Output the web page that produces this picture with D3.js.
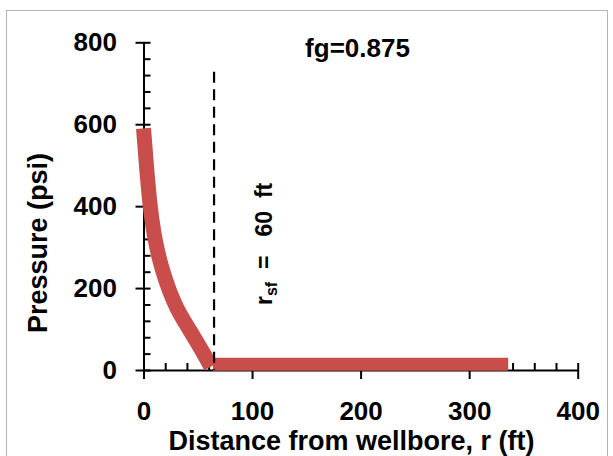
<!DOCTYPE html>
<html><head><meta charset="utf-8">
<script src="https://cdn.jsdelivr.net/npm/d3@7"></script>
<style>
html,body{margin:0;padding:0;background:#fff;}
svg{display:block;font-family:"Liberation Sans",Arial,sans-serif;}
text{font-weight:bold;fill:#000;}
</style></head><body>
<svg id="chart" width="613" height="456"></svg>
<script>
// Data
const curveR = [0, 3, 6, 9, 13, 18, 24, 31, 39, 47, 55, 62];
const curveP = [590, 490, 405, 345, 290, 240, 193, 150, 113, 78, 42, 8];
const flatR = [64, 336];
const flatP = [14, 14];
const rsfLine = 65;
const rsfTop = 728;
const xTickValues = [0, 100, 200, 300, 400];
const yTickValues = [0, 200, 400, 600, 800];
const xMinorValues = d3.range(0, 401, 20).filter(v => v % 100 !== 0);
const yMinorValues = d3.range(0, 801, 40).filter(v => v % 200 !== 0);
const xTitle = "Distance from wellbore, r (ft)";
const yTitle = "Pressure (psi)";
const annot = "fg=0.875";

const svg = d3.select("#chart");
const x = d3.scaleLinear([0, 400], [143.5, 577.7]);
const y = d3.scaleLinear([0, 800], [370, 42.3]);

svg.append("rect").attr("x", 6.5).attr("y", 10.5).attr("width", 601).attr("height", 470)
  .attr("fill", "none").attr("stroke", "#b4b4b4").attr("stroke-width", 1);

// X axis
const gx = svg.append("g").attr("transform", `translate(0,${y(0)})`)
  .call(d3.axisBottom(x).tickValues(xTickValues).tickSize(9).tickPadding(22.5).tickSizeOuter(0));
gx.attr("font-size", null).attr("font-family", null);
gx.select(".domain").attr("stroke", "#000").attr("stroke-width", 2);
gx.selectAll(".tick line").attr("y1", -7).attr("y2", 9).attr("stroke", "#000").attr("stroke-width", 2);
gx.selectAll(".tick text").style("font-size", "26px");
const gxm = svg.append("g").attr("transform", `translate(0,${y(0)})`)
  .call(d3.axisBottom(x).tickValues(xMinorValues).tickSize(-7).tickSizeOuter(0).tickFormat(""));
gxm.select(".domain").remove();
gxm.selectAll(".tick line").attr("stroke", "#000").attr("stroke-width", 2);

// Y axis
const gy = svg.append("g").attr("transform", `translate(${x(0)},0)`)
  .call(d3.axisLeft(y).tickValues(yTickValues).tickSize(8).tickPadding(18.5).tickSizeOuter(0));
gy.attr("font-size", null).attr("font-family", null);
gy.select(".domain").attr("stroke", "#000").attr("stroke-width", 2);
gy.selectAll(".tick line").attr("x1", -8).attr("x2", 7).attr("stroke", "#000").attr("stroke-width", 2);
gy.selectAll(".tick text").style("font-size", "26px");
const gym = svg.append("g").attr("transform", `translate(${x(0)},0)`)
  .call(d3.axisLeft(y).tickValues(yMinorValues).tickSize(-7).tickSizeOuter(0).tickFormat(""));
gym.select(".domain").remove();
gym.selectAll(".tick line").attr("stroke", "#000").attr("stroke-width", 2);

// Series
const line = d3.line().x(d => x(d[0])).y(d => y(d[1])).curve(d3.curveMonotoneX);
const color = "#C84D4B";
svg.append("path").datum(curveR.map((r, i) => [r, curveP[i]]))
  .attr("d", line).attr("fill", "none").attr("stroke", color).attr("stroke-width", 15).attr("stroke-linecap", "butt");
svg.append("path").datum(flatR.map((r, i) => [r, flatP[i]]))
  .attr("d", line).attr("fill", "none").attr("stroke", color).attr("stroke-width", 13).attr("stroke-linecap", "butt");

// Dashed r_sf line
svg.append("line").attr("x1", x(rsfLine)).attr("x2", x(rsfLine))
  .attr("y1", y(rsfTop)).attr("y2", y(0))
  .attr("stroke", "#000").attr("stroke-width", 2.2).attr("stroke-dasharray", "11,6.5");

// Titles
svg.append("text").attr("x", 351.5).attr("y", 450).attr("text-anchor", "middle")
  .style("font-size", "27px").text(xTitle);
svg.append("text").attr("transform", "translate(46.5,243) rotate(-90)").attr("text-anchor", "middle")
  .style("font-size", "27px").text(yTitle);
svg.append("text").attr("x", 357.5).attr("y", 57).attr("text-anchor", "middle")
  .style("font-size", "26px").text(annot);

const rl = svg.append("text").attr("transform", "translate(272,305) rotate(-90)")
  .style("font-size", "23px").style("white-space", "pre");
rl.append("tspan").text("r");
rl.append("tspan").attr("dy", 5).style("font-size", "16px").text("sf");
rl.append("tspan").attr("dy", -5).text("  =   60  ft");
</script>
</body></html>
